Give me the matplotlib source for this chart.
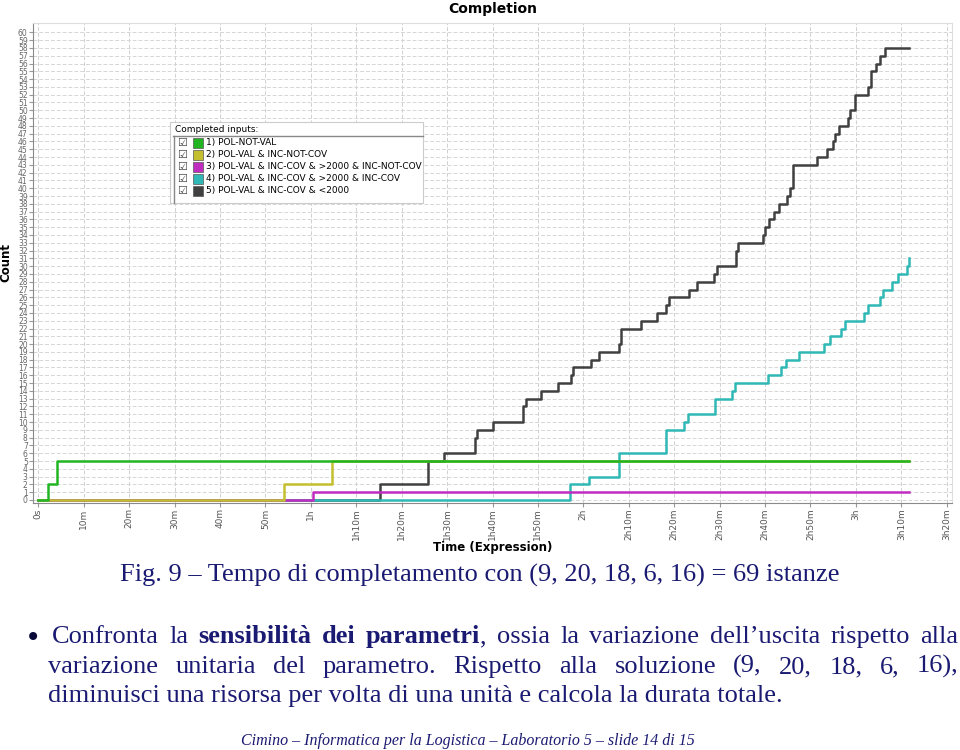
import matplotlib
matplotlib.use('Agg')
import matplotlib.pyplot as plt
from matplotlib.patches import Rectangle
from matplotlib.lines import Line2D

# completion steps: time (minutes) at which the count reaches the value
green_t = [0, 2.1, 4.2, 191.7]
green_n = [0, 2, 5, 5]

yellow_t = [0, 54.1, 64.7, 191.7]
yellow_n = [0, 2, 5, 5]

magenta_t = [0, 60.5, 191.7]
magenta_n = [0, 1, 1]

cyan_t = [0, 117.0, 121.2, 127.8, 138.3, 142.2, 143.1, 149.0, 152.8, 153.4,
          160.7, 163.5, 164.6, 167.5, 172.9, 174.3, 176.8, 177.7, 181.7, 182.6,
          185.3, 185.9, 187.9, 189.3, 191.2, 191.7]
cyan_n = [0, 2, 3, 6, 9, 10, 11, 13, 14, 15,
          16, 17, 18, 19, 20, 21, 22, 23, 24, 25,
          26, 27, 28, 29, 30, 31]

black_t = [0, 75.2, 85.8, 89.4, 96.2, 96.6, 100.2, 106.7, 107.3, 110.7,
           114.5, 117.2, 117.8, 121.7, 123.5, 127.8, 128.3, 132.7, 136.2, 138.2,
           138.9, 143.3, 145.1, 148.7, 149.5, 153.6, 154.0, 159.5, 160.0, 160.8,
           162.0, 163.0, 164.9, 165.6, 166.2, 171.4, 173.7, 174.9, 175.3, 176.2,
           178.2, 178.7, 179.8, 182.7, 183.4, 184.5, 185.3, 186.5, 191.7]
black_n = [0, 2, 5, 6, 8, 9, 10, 12, 13, 14,
           15, 16, 17, 18, 19, 20, 22, 23, 24, 25,
           26, 27, 28, 29, 30, 32, 33, 34, 35, 36,
           37, 38, 39, 40, 43, 44, 45, 46, 47, 48,
           49, 50, 52, 53, 55, 56, 57, 58, 58]

series_labels = ['1) POL-NOT-VAL',
                 '2) POL-VAL & INC-NOT-COV',
                 '3) POL-VAL & INC-COV & >2000 & INC-NOT-COV',
                 '4) POL-VAL & INC-COV & >2000 & INC-COV',
                 '5) POL-VAL & INC-COV & <2000']
series_colors = ['#22b522', '#c4bf2e', '#c02cc0', '#2fb8b5', '#404040']

x_ticks = list(range(0, 201, 10))
x_labels = ['0s', '10m', '20m', '30m', '40m', '50m', '1h', '1h10m', '1h20m',
            '1h30m', '1h40m', '1h50m', '2h', '2h10m', '2h20m', '2h30m',
            '2h40m', '2h50m', '3h', '3h10m', '3h20m']

W, H = 960, 750
navy = '#1a1a72'
serif = 'Liberation Serif'
body_size = 19


def px(x, y):
    return x / W, 1 - y / H


fig = plt.figure(figsize=(9.6, 7.5), dpi=100)
ax = fig.add_axes([33.3 / W, 1 - 502.7 / H, (951.7 - 33.3) / W, (502.7 - 23) / H])

data = [(green_t, green_n), (yellow_t, yellow_n), (magenta_t, magenta_n),
        (cyan_t, cyan_n), (black_t, black_n)]
zs = [6, 5, 4, 3, 2]
for (t, n), c, z in zip(data, series_colors, zs):
    ax.step(t, n, where='post', color=c, lw=1.8, zorder=z)

ax.set_xlim(-1.1, 201.1)
ax.set_ylim(-0.35, 61.2)
ax.set_xticks(x_ticks)
ax.set_xticklabels(x_labels, rotation=90, fontsize=6.5, color='#555555')
ax.set_yticks(range(0, 61))
ax.set_yticklabels([str(i) for i in range(0, 61)], fontsize=5.5, color='#666666')
ax.tick_params(length=3, pad=1, color='#999999')
ax.grid(axis='y', color='#d6d6d6', lw=0.7, ls=(0, (4, 2)))
ax.grid(axis='x', color='#d0d0d0', lw=0.7, ls=(0, (4, 2)))
ax.set_axisbelow(True)
for s in ['left', 'bottom']:
    ax.spines[s].set_color('#8a8a8a')
for s in ['top', 'right']:
    ax.spines[s].set_color('#dddddd')

ax.set_title('Completion', fontsize=10, fontweight='bold', pad=7)
ax.set_xlabel('Time (Expression)', fontsize=8.5, fontweight='bold', labelpad=1)
ax.set_ylabel('Count', fontsize=8.5, fontweight='bold', labelpad=4)

# legend panel
lx0, ly0, lx1, ly1 = 170, 122, 423, 203
fig.patches.append(Rectangle(px(lx0, ly1), (lx1 - lx0) / W, (ly1 - ly0) / H,
                             transform=fig.transFigure, facecolor='white',
                             edgecolor='#cccccc', lw=0.8, zorder=10))
fig.lines.append(Line2D([173 / W, lx1 / W], [1 - 136 / H] * 2,
                        transform=fig.transFigure, color='#888888', lw=1, zorder=11))
fig.lines.append(Line2D([173.5 / W] * 2, [1 - 136 / H, 1 - 203 / H],
                        transform=fig.transFigure, color='#888888', lw=1, zorder=11))
fig.text(*px(175, 130), 'Completed inputs:', fontsize=6.5, va='center', zorder=12)
for i, (lab, c) in enumerate(zip(series_labels, series_colors)):
    yy = 143 + i * 12
    fig.text(*px(177, yy), '\u2611', fontsize=8, va='center', color='#444444', zorder=12)
    fig.patches.append(Rectangle(px(193, yy + 5), 10 / W, 10 / H,
                                 transform=fig.transFigure, facecolor=c,
                                 edgecolor='#555555', lw=0.5, zorder=12))
    fig.text(*px(206, yy), lab, fontsize=6.5, va='center', zorder=12)

# slide text
fig.text(*px(480, 582), 'Fig. 9 \u2013 Tempo di completamento con (9, 20, 18, 6, 16) = 69 istanze',
         fontsize=body_size, family=serif, color=navy, ha='center', va='baseline')

renderer = fig.canvas.get_renderer()


def justify(words, x0, x1, y):
    items = []
    for word in words:
        parts = []
        for s, b in word:
            t = fig.text(0, 0, s, fontsize=body_size, family=serif, color=navy,
                         fontweight='bold' if b else 'normal', va='baseline')
            parts.append((t, t.get_window_extent(renderer).width))
        items.append(parts)
    widths = [sum(w for _, w in p) for p in items]
    gap = (x1 - x0 - sum(widths)) / (len(items) - 1)
    x = x0
    for parts, wd in zip(items, widths):
        xx = x
        for t, w in parts:
            t.set_position(px(xx, y))
            xx += w
        x += wd + gap


def plain(text):
    return [[(w, False)] for w in text.split()]


line1 = (plain('Confronta la') + [[('sensibilit\u00e0', True)], [('dei', True)],
         [('parametri', True), (',', False)]] +
         plain('ossia la variazione dell\u2019uscita rispetto alla'))
fig.text(*px(25, 646), '\u2022', fontsize=20, family='DejaVu Sans', color='#0a0a3a', va='baseline')
justify(line1, 52, 958, 643)
justify(plain('variazione unitaria del parametro. Rispetto alla soluzione (9, 20, 18, 6, 16),'),
        48, 958, 673)
fig.text(*px(48, 702), 'diminuisci una risorsa per volta di una unit\u00e0 e calcola la durata totale.',
         fontsize=body_size, family=serif, color=navy, va='baseline')
fig.text(*px(468, 745), 'Cimino \u2013 Informatica per la Logistica \u2013 Laboratorio 5 \u2013 slide 14 di 15',
         fontsize=11.5, family=serif, style='italic', color=navy, ha='center', va='baseline')

fig.savefig('out.png', dpi=100)
